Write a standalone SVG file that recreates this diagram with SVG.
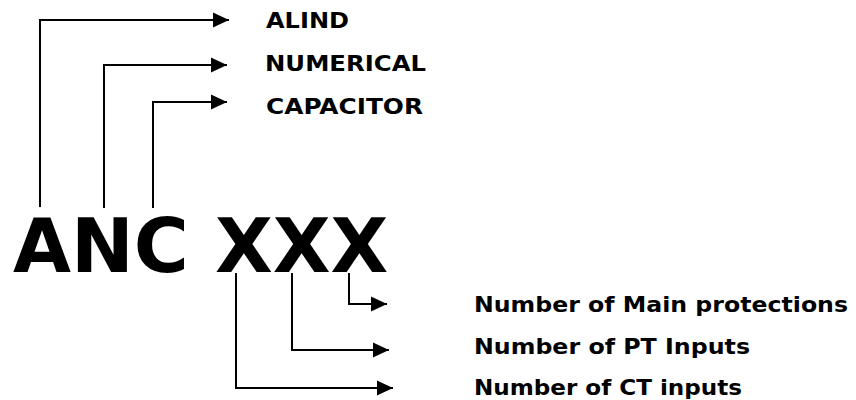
<svg xmlns="http://www.w3.org/2000/svg" width="856" height="400" viewBox="0 0 856 400">
<style>
.lbl{font-family:"DejaVu Sans",Verdana,sans-serif;font-weight:bold;font-size:21.5px;fill:#000}
.big{font-family:"DejaVu Sans",Verdana,sans-serif;font-weight:bold;font-size:75px;fill:#000}
.c{fill:none;stroke:#000;stroke-width:2}
</style>
<defs>
<marker id="ah" markerUnits="userSpaceOnUse" markerWidth="16" markerHeight="16" refX="16" refY="8" orient="auto">
<path d="M0,0.5 L16,8 L0,15.5 Z" fill="#000"/>
</marker>
</defs>
<rect width="856" height="400" fill="#fff"/>
<g id="code"><text class="big" x="13" y="272">ANC XXX</text></g>
<g id="alind"><text class="lbl" x="266" y="27.5" textLength="83" lengthAdjust="spacingAndGlyphs">ALIND</text></g>
<g id="numerical"><text class="lbl" x="265" y="71" textLength="161" lengthAdjust="spacingAndGlyphs">NUMERICAL</text></g>
<g id="capacitor"><text class="lbl" x="266" y="113.5" textLength="157" lengthAdjust="spacingAndGlyphs">CAPACITOR</text></g>
<g id="main-prot"><text class="lbl" x="474" y="312" textLength="374" lengthAdjust="spacingAndGlyphs">Number of Main protections</text></g>
<g id="pt-inputs"><text class="lbl" x="474" y="353.5" textLength="276" lengthAdjust="spacingAndGlyphs">Number of PT Inputs</text></g>
<g id="ct-inputs"><text class="lbl" x="474" y="395" textLength="268" lengthAdjust="spacingAndGlyphs">Number of CT inputs</text></g>
<g id="connectors">
<path class="c" d="M40,207 V20 H229" marker-end="url(#ah)"/>
<path class="c" d="M104,208 V65 H227" marker-end="url(#ah)"/>
<path class="c" d="M153,208 V102 H227" marker-end="url(#ah)"/>
<path class="c" d="M349,273 V304 H387" marker-end="url(#ah)"/>
<path class="c" d="M292,273 V350 H389" marker-end="url(#ah)"/>
<path class="c" d="M236,273 V388 H393" marker-end="url(#ah)"/>
</g>
</svg>
